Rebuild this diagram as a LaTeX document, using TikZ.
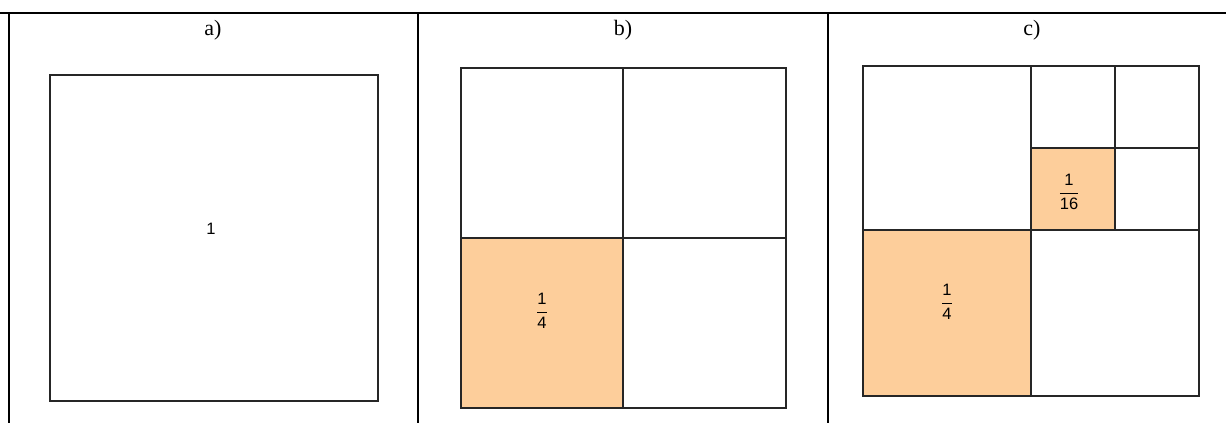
\documentclass[tikz,border=0pt]{standalone}
\usepackage{amsmath}
\usepackage{fontspec}
\setmainfont{Liberation Serif}
\setsansfont{Liberation Sans}
\usepackage{tikz}
\usetikzlibrary{positioning}
\definecolor{cellfill}{RGB}{253,206,155}
\newcommand{\PartFrac}[2]{$\dfrac{\mbox{#1}}{\mbox{#2}}$}

\begin{document}
\begin{tikzpicture}[x=1pt, y=-1pt,
  frame/.style={line width=2pt, draw=black},
  cell/.style={line width=2.2pt, draw=black!85},
  shaded/.style={cell, fill=cellfill},
  head/.style={font=\fontsize{22}{26}\selectfont, inner sep=0pt},
  part/.style={font=\sffamily\fontsize{16.5}{19}\selectfont, inner sep=0pt}
]
\useasboundingbox (0,0) rectangle (1226,423);

% table lines
\draw[frame] (0,12.5) -- (1226,12.5);
\foreach \x in {8.5,417.5,827.5}
  \draw[frame] (\x,12.5) -- (\x,423);

% column heads
\node[head] (heada) at (213,30) {a)};
\node[head] (headb) at (623,30) {b)};
\node[head] (headc) at (1032,30) {c)};

% a) whole square
\draw[cell] (50,75) rectangle (378,401);
\node[part] (whole) at (211,229) {1};

% b) quarters
\filldraw[shaded] (461,238) rectangle (623,408);
\draw[cell] (461,68) rectangle (786,408);
\draw[cell] (623,68) -- (623,408) (461,238) -- (786,238);
\node[part] (quarterb) at (542,311) {\PartFrac{1}{4}};

% c) quarters and sixteenths
\filldraw[shaded] (863,230) rectangle (1031,396);
\filldraw[shaded] (1031,148) rectangle (1115,230);
\draw[cell] (863,66) rectangle (1199,396);
\draw[cell] (1031,66) -- (1031,396) (863,230) -- (1199,230);
\draw[cell] (1115,66) -- (1115,230) (1031,148) -- (1199,148);
\node[part] (quarterc) at (947,302) {\PartFrac{1}{4}};
\node[part] (sixteenth) at (1069,192) {\PartFrac{1}{16}};
\end{tikzpicture}
\end{document}
